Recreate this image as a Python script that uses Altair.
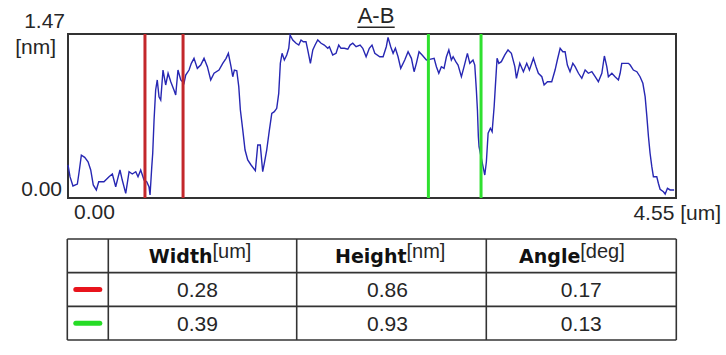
import altair as alt
import pandas as pd

# ---------------- data ----------------
profile_x = [
    0.000, 0.015, 0.037, 0.070, 0.082, 0.100, 0.125, 0.150, 0.170, 0.189,
    0.212, 0.230, 0.269, 0.307, 0.332, 0.357, 0.376, 0.389, 0.406, 0.432,
    0.457, 0.481, 0.507, 0.524, 0.544, 0.569, 0.589, 0.606, 0.614, 0.627,
    0.634, 0.644, 0.656, 0.668, 0.681, 0.694, 0.711, 0.731, 0.749, 0.769,
    0.793, 0.806, 0.823, 0.844, 0.868, 0.881, 0.906, 0.923, 0.943, 0.968,
    0.993, 1.018, 1.043, 1.068, 1.093, 1.130,
    1.158, 1.183, 1.200, 1.220, 1.233, 1.245, 1.263, 1.278, 1.290, 1.308,
    1.325, 1.345, 1.370, 1.402, 1.420, 1.439, 1.457, 1.469, 1.487, 1.507,
    1.525, 1.544, 1.562, 1.577, 1.589, 1.602, 1.619, 1.637, 1.652, 1.662,
    1.682, 1.707, 1.727, 1.744, 1.761, 1.781, 1.794, 1.814, 1.832, 1.849,
    1.869, 1.894, 1.918, 1.944, 1.956, 1.981, 2.006, 2.026, 2.043, 2.068,
    2.094, 2.111, 2.131, 2.156, 2.186, 2.206, 2.231, 2.255, 2.275,
    2.296, 2.333, 2.358, 2.382, 2.395, 2.415, 2.433, 2.450, 2.470, 2.490,
    2.520, 2.545, 2.570, 2.590, 2.607, 2.627, 2.650, 2.682, 2.707, 2.740,
    2.757, 2.775, 2.794, 2.814, 2.832, 2.850, 2.869, 2.882, 2.902, 2.919,
    2.944, 2.964, 2.989, 3.007, 3.031, 3.044, 3.056, 3.064, 3.071, 3.076,
    3.106, 3.119, 3.131, 3.144, 3.161, 3.174, 3.189, 3.198, 3.211, 3.224,
    3.243, 3.269, 3.293, 3.318, 3.344, 3.356, 3.381,
    3.408, 3.433, 3.453, 3.483, 3.503, 3.520, 3.546, 3.563, 3.588, 3.620,
    3.645, 3.662, 3.683, 3.703, 3.720, 3.737, 3.757, 3.778, 3.795, 3.820,
    3.845, 3.870, 3.894, 3.920, 3.945, 3.969, 3.995, 4.014, 4.032, 4.044,
    4.070, 4.094, 4.119, 4.132, 4.144, 4.169, 4.194, 4.207, 4.231, 4.257,
    4.281, 4.302, 4.319, 4.332, 4.344, 4.356, 4.369, 4.381, 4.406, 4.418,
    4.431, 4.456, 4.469, 4.486, 4.506, 4.536,
]
profile_y = [
    0.296, 0.191, 0.108, 0.125, 0.224, 0.383, 0.365, 0.325, 0.251, 0.117,
    0.072, 0.146, 0.146, 0.191, 0.215, 0.101, 0.191, 0.251, 0.161, 0.042,
    0.236, 0.215, 0.236, 0.191, 0.251, 0.161, 0.146, 0.101, 0.027, 0.281,
    0.401, 0.699, 0.968, 1.058, 0.908, 0.878, 1.147, 1.013, 1.118, 1.042,
    0.968, 0.923, 1.147, 1.058, 1.028, 1.102, 1.147, 1.207, 1.252, 1.162,
    1.192, 1.252, 1.177, 1.058, 1.118, 1.147,
    1.207, 1.252, 1.297, 1.177, 1.087, 1.147, 1.141, 0.998, 0.789, 0.609,
    0.430, 0.341, 0.296, 0.245, 0.475, 0.475, 0.236, 0.311, 0.430, 0.609,
    0.759, 0.774, 0.804, 0.938, 1.207, 1.297, 1.237, 1.282, 1.342, 1.461,
    1.416, 1.387, 1.371, 1.416, 1.401, 1.401, 1.327, 1.207, 1.327, 1.371,
    1.416, 1.387, 1.371, 1.342, 1.356, 1.282, 1.297, 1.371, 1.342, 1.342,
    1.333, 1.371, 1.387, 1.356, 1.371, 1.342, 1.266, 1.342, 1.371,
    1.297, 1.266, 1.266, 1.356, 1.440, 1.356, 1.297, 1.342, 1.266, 1.162,
    1.237, 1.311, 1.252, 1.132, 1.207, 1.311, 1.282, 1.237, 1.243, 1.252,
    1.177, 1.118, 1.177, 1.162, 1.266, 1.327, 1.237, 1.266, 1.222, 1.192,
    1.087, 1.177, 1.297, 1.207, 1.237, 1.192, 0.968, 0.789, 0.549, 0.460,
    0.281, 0.206, 0.325, 0.580, 0.625, 0.594, 0.818, 0.998, 1.252, 1.207,
    1.222, 1.282, 1.327, 1.297, 1.177, 1.073, 1.207,
    1.132, 1.207, 1.147, 1.252, 1.177, 1.118, 1.087, 1.013, 1.042, 1.042,
    1.147, 1.237, 1.342, 1.311, 1.311, 1.192, 1.132, 1.207, 1.177, 1.118,
    1.073, 1.147, 1.118, 1.132, 1.087, 1.042, 1.118, 1.273, 1.177, 1.087,
    1.118, 1.087, 1.058, 1.118, 1.207, 1.207, 1.207, 1.192, 1.147, 1.132,
    1.087, 1.028, 0.908, 0.729, 0.549, 0.401, 0.281, 0.191, 0.191, 0.132,
    0.078, 0.056, 0.036, 0.087, 0.072, 0.072,
]

red_cursors = [0.576, 0.861]
green_cursors = [2.697, 3.091]

x_range = [0.0, 4.55]
y_range = [0.0, 1.47]
title_text = "A-B"
x_labels = ["0.00", "4.55 [um]"]
y_labels = ["1.47", "[nm]", "0.00"]

headers = ["Width", "Height", "Angle"]
units = ["[um]", "[nm]", "[deg]"]
width_vals = [0.28, 0.39]
height_vals = [0.86, 0.93]
angle_vals = [0.17, 0.13]

# ---------------- style / layout ----------------
PLOT_W, PLOT_H, TOTAL_H = 608, 164, 306
PROFILE_COLOR = "#2727b3"
CURSOR_RED = "#c3272b"
CURSOR_GREEN = "#2fe02f"
SWATCH_RED = "#e8141c"
SWATCH_GREEN = "#26dc26"
FRAME_COLOR = "#333333"
TEXT_COLOR = "#262626"
FONT = "Liberation Sans"
BOLD_FONT = "DejaVu Sans"

col_edges = [0, 41, 229.4, 419, 609]
header_shift = [10, 15, -1]
value_shift = [-5, -4, 0]

sx = alt.Scale(domain=x_range, range=[0, PLOT_W], nice=False, zero=False)
sy = alt.Scale(domain=y_range, range=[PLOT_H, 0], nice=False, zero=False)
tx = alt.Scale(domain=[0, 609], range=[-0.7, 608.3], nice=False, zero=False)
ty = alt.Scale(domain=[0, 3], range=[205, TOTAL_H], nice=False, zero=False)


def PX(f):
    return alt.X(f, scale=sx, axis=None)


def PY(f):
    return alt.Y(f, scale=sy, axis=None)


def TX(f):
    return alt.X(f, scale=tx, axis=None)


def TY(f):
    return alt.Y(f, scale=ty, axis=None)


layers = []

# plot frame
frame_df = pd.DataFrame({"x0": [x_range[0]], "x1": [x_range[1]],
                         "y0": [y_range[0]], "y1": [y_range[1]]})
layers.append(
    alt.Chart(frame_df).mark_rect(fill="white", stroke=FRAME_COLOR, strokeWidth=2)
    .encode(x=PX("x0:Q"), x2="x1:Q", y=PY("y0:Q"), y2="y1:Q")
)

# profile
prof_df = pd.DataFrame({"x": profile_x, "y": profile_y})
layers.append(
    alt.Chart(prof_df).mark_line(color=PROFILE_COLOR, strokeWidth=1.4)
    .encode(x=PX("x:Q"), y=PY("y:Q"))
)

# cursors
cur_df = pd.DataFrame({
    "x": red_cursors + green_cursors,
    "c": [CURSOR_RED] * len(red_cursors) + [CURSOR_GREEN] * len(green_cursors),
    "y0": y_range[0], "y1": y_range[1],
})
layers.append(
    alt.Chart(cur_df).mark_rule(strokeWidth=3)
    .encode(x=PX("x:Q"), y=PY("y0:Q"), y2="y1:Q",
            color=alt.Color("c:N", scale=None))
)


def ptext(txt, x, y, align, dx, dy, size=21):
    df = pd.DataFrame({"x": [x], "y": [y], "t": [txt]})
    return (alt.Chart(df)
            .mark_text(align=align, baseline="alphabetic", dx=dx, dy=dy,
                       fontSize=size, font=FONT, color=TEXT_COLOR)
            .encode(x=PX("x:Q"), y=PY("y:Q"), text="t:N"))


# axis labels
layers.append(ptext(y_labels[0], x_range[0], y_range[1], "right", -3, -6.3))
layers.append(ptext(y_labels[1], x_range[0], y_range[1], "right", -12, 19.5))
layers.append(ptext(y_labels[2], x_range[0], y_range[0], "right", -6, -2))
layers.append(ptext(x_labels[0], x_range[0], y_range[0], "left", 6, 21))
layers.append(ptext(x_labels[1], x_range[1], y_range[0], "right", 45, 21.5))

# title with underline
mid = (x_range[0] + x_range[1]) / 2
layers.append(ptext(title_text, mid, y_range[1], "center", 4, -11.3, size=22))
kx = (x_range[1] - x_range[0]) / PLOT_W
ky = (y_range[1] - y_range[0]) / PLOT_H
ul_df = pd.DataFrame({"x0": [mid + (4 - 18.7) * kx], "x1": [mid + (4 + 18.7) * kx],
                      "y": [y_range[1] + 6.7 * ky]})
layers.append(
    alt.Chart(ul_df).mark_rule(color=TEXT_COLOR, strokeWidth=1.5)
    .encode(x=PX("x0:Q"), x2="x1:Q", y=PY("y:Q"))
)

# ---------------- table ----------------
h_df = pd.DataFrame({"r": [0, 1, 2, 3], "x0": col_edges[0], "x1": col_edges[-1]})
layers.append(
    alt.Chart(h_df).mark_rule(color=FRAME_COLOR, strokeWidth=1.6)
    .encode(x=TX("x0:Q"), x2="x1:Q", y=TY("r:Q"))
)
v_df = pd.DataFrame({"c": col_edges, "y0": 0, "y1": 3})
layers.append(
    alt.Chart(v_df).mark_rule(color=FRAME_COLOR, strokeWidth=1.6)
    .encode(x=TX("c:Q"), y=TY("y0:Q"), y2="y1:Q")
)

centers = [(col_edges[i] + col_edges[i + 1]) / 2 for i in range(1, 4)]
hdr_df = pd.DataFrame({
    "x": [c + s for c, s in zip(centers, header_shift)],
    "y": 0.5, "h": headers, "u": units,
})
layers.append(
    alt.Chart(hdr_df).mark_text(align="right", baseline="alphabetic", dy=7.3,
                                font=BOLD_FONT, fontWeight="bold", fontSize=19,
                                color="#111111")
    .encode(x=TX("x:Q"), y=TY("y:Q"), text="h:N")
)
layers.append(
    alt.Chart(hdr_df).mark_text(align="left", baseline="alphabetic", dy=2,
                                font=FONT, fontSize=20, color=TEXT_COLOR)
    .encode(x=TX("x:Q"), y=TY("y:Q"), text="u:N")
)

val_rows = []
for r, vals in enumerate(zip(width_vals, height_vals, angle_vals)):
    for ci, v in enumerate(vals):
        val_rows.append({"x": centers[ci] + value_shift[ci], "y": r + 1.5, "v": v})
val_df = pd.DataFrame(val_rows)
layers.append(
    alt.Chart(val_df).mark_text(align="center", baseline="alphabetic", dy=7.5,
                                font=FONT, fontSize=21, color=TEXT_COLOR)
    .encode(x=TX("x:Q"), y=TY("y:Q"), text=alt.Text("v:Q", format=".2f"))
)

sw_df = pd.DataFrame({"x0": 8.5, "x1": 32.5, "y": [1.5, 2.5],
                      "c": [SWATCH_RED, SWATCH_GREEN]})
layers.append(
    alt.Chart(sw_df).mark_rule(strokeWidth=5, strokeCap="round")
    .encode(x=TX("x0:Q"), x2="x1:Q", y=TY("y:Q"),
            color=alt.Color("c:N", scale=None))
)

chart = (
    alt.layer(*layers)
    .resolve_scale(x="independent", y="independent")
    .properties(
        width=PLOT_W, height=TOTAL_H,
        padding={"left": 68, "top": 34, "right": 50, "bottom": 15},
        autosize=alt.AutoSizeParams(type="none"),
        background="white",
    )
    .configure_view(stroke=None)
)

chart.save("out.html", embed_options={"renderer": "svg", "actions": False})
